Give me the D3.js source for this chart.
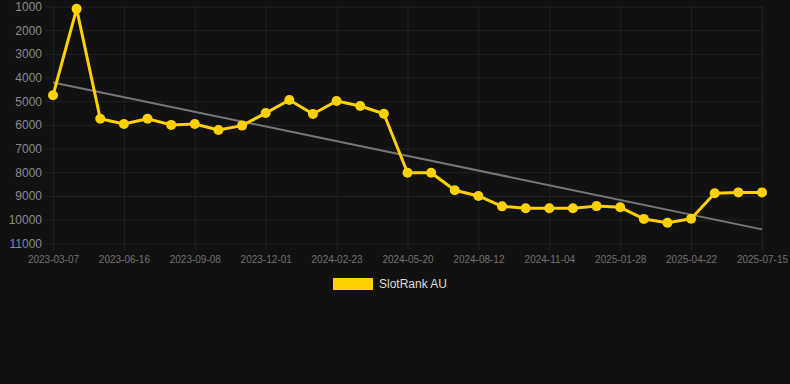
<!DOCTYPE html>
<html>
<head>
<meta charset="utf-8">
<script src="https://cdn.jsdelivr.net/npm/d3@7"></script>
<style>
  html, body { margin: 0; padding: 0; background: #111111; }
  svg { display: block; font-family: "Liberation Sans", Arial, sans-serif; }
</style>
</head>
<body>
<svg id="chart" width="790" height="384"></svg>
<script>
// ---- data ----
const dates = [
  "2023-03-07","2023-04-10","2023-05-13","2023-06-16","2023-07-14","2023-08-11",
  "2023-09-08","2023-10-06","2023-11-03","2023-12-01","2023-12-29","2024-01-26",
  "2024-02-23","2024-03-22","2024-04-21","2024-05-20","2024-06-17","2024-07-15",
  "2024-08-12","2024-09-09","2024-10-07","2024-11-04","2024-12-02","2024-12-31",
  "2025-01-28","2025-02-25","2025-03-25","2025-04-22","2025-05-20","2025-06-17",
  "2025-07-15"
];
const rankAU = [
  4750, 1100, 5740, 5960, 5740, 6000, 5960, 6215, 6030, 5500, 4950, 5540,
  4990, 5200, 5530, 8020, 8020, 8760, 9000, 9440, 9520, 9520, 9520, 9430,
  9480, 9970, 10130, 9960, 8890, 8850, 8850
];
const yTicks = [1000, 2000, 3000, 4000, 5000, 6000, 7000, 8000, 9000, 10000, 11000];
const xTickLabels = ["2023-03-07","2023-06-16","2023-09-08","2023-12-01","2024-02-23",
  "2024-05-20","2024-08-12","2024-11-04","2025-01-28","2025-04-22","2025-07-15"];
const seriesName = "SlotRank AU";

// ---- layout ----
(function () {
const svg = d3.select("#chart");
const pL = 53, pR = 762, pT = 6.5, pB = 243.3;
const lineColor = "#FFD100";
const gridColor = "#222222";

const x = d3.scalePoint().domain(dates).range([pL, pR]);
const y = d3.scaleLinear().domain([1000, 11000]).range([pT, pB]);

// horizontal grid + y labels
const yAxis = d3.axisLeft(y).tickValues(yTicks).tickSize(0).tickPadding(3)
  .tickFormat(d => String(d));
const gy = svg.append("g").attr("transform", `translate(${pL - 8},0)`).call(yAxis);
gy.select(".domain").remove();
gy.selectAll(".tick line").attr("stroke", gridColor).attr("stroke-width", 1)
  .attr("x1", 0).attr("x2", pR - pL + 8);
gy.selectAll(".tick text").attr("fill", "#8a8a8a").attr("font-size", 12)
  .attr("font-family", "'Liberation Sans', Arial, sans-serif").attr("x", -3);

// vertical grid + x labels
const xAxis = d3.axisBottom(x).tickValues(xTickLabels).tickSize(0).tickPadding(12);
const gx = svg.append("g").attr("transform", `translate(0,${pB})`).call(xAxis);
gx.select(".domain").remove();
gx.selectAll(".tick line").attr("stroke", gridColor).attr("y1", 7).attr("y2", -(pB - pT));
gx.selectAll(".tick text").attr("fill", "#707070").attr("font-size", 10)
  .attr("font-family", "'Liberation Sans', Arial, sans-serif").attr("dy", "0.71em").attr("y", 12.5);

// trend (least squares on data)
const n = rankAU.length;
const idx = d3.range(n);
const mx = d3.mean(idx), my = d3.mean(rankAU);
const slope = d3.sum(idx, i => (i - mx) * (rankAU[i] - my)) / d3.sum(idx, i => (i - mx) ** 2);
const intercept = my - slope * mx;
svg.append("line")
  .attr("x1", x(dates[0])).attr("y1", y(intercept))
  .attr("x2", x(dates[n - 1])).attr("y2", y(intercept + slope * (n - 1)))
  .attr("stroke", "#777777").attr("stroke-width", 2);

// series line
const line = d3.line().x((d, i) => x(dates[i])).y(d => y(d));
svg.append("path").datum(rankAU).attr("d", line)
  .attr("fill", "none").attr("stroke", lineColor).attr("stroke-width", 3)
  .attr("stroke-linejoin", "round");

svg.append("g").selectAll("circle").data(rankAU).join("circle")
  .attr("cx", (d, i) => x(dates[i])).attr("cy", d => y(d)).attr("r", 5)
  .attr("fill", lineColor);

// legend
const lg = svg.append("g");
lg.append("rect").attr("x", 333).attr("y", 278).attr("width", 40).attr("height", 12).attr("fill", lineColor);
lg.append("text").attr("x", 379).attr("y", 284).attr("dy", "0.35em")
  .attr("fill", "#dddddd").attr("font-size", 12).text(seriesName);
})();
</script>
</body>
</html>
